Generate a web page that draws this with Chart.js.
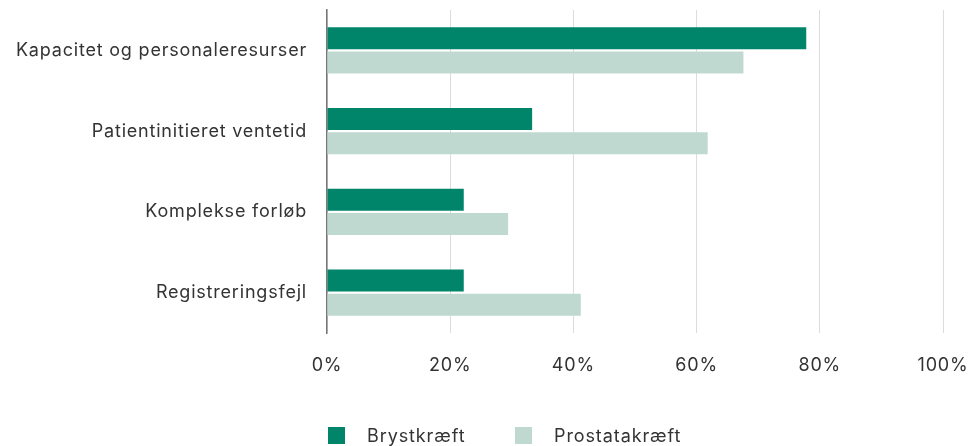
<!DOCTYPE html>
<html><head><meta charset="utf-8">
<script src="https://cdn.jsdelivr.net/npm/chart.js@4/dist/chart.umd.min.js"></script>
<style>
html,body{margin:0;padding:0;background:#fff;}
#wrap{position:relative;width:977px;height:446px;}
#legend{position:absolute;left:0;top:425px;width:977px;height:22px;font-family:Inter,sans-serif;font-size:18px;letter-spacing:0.9px;color:#333;}
.item{position:absolute;top:0;display:flex;align-items:center;}
.box{width:17px;height:17px;display:inline-block;}
</style></head>
<body><div id="wrap"><canvas id="c" width="977" height="446"></canvas><div id="legend"></div></div>
<script>
const categories = ["Kapacitet og personaleresurser","Patientinitieret ventetid","Komplekse forløb","Registreringsfejl"];
const seriesNames = ["Brystkræft","Prostatakræft"];
const brystkraeft = [77.8, 33.3, 22.2, 22.2];
const prostatakraeft = [67.6, 61.8, 29.4, 41.2];
const xTicks = [0,20,40,60,80,100];
const colors = ["#00856A","#BFD9D0"];
const font = "Inter, sans-serif";

const spacing = {id:'spacing',beforeDraw(c){c.ctx.letterSpacing='0.8px';}};

const chart = new Chart(document.getElementById('c'), {
  type:'bar',
  plugins:[spacing],
  data:{labels:categories,datasets:[
    {label:seriesNames[0],data:brystkraeft,backgroundColor:colors[0],categoryPercentage:0.6,barPercentage:0.9},
    {label:seriesNames[1],data:prostatakraeft,backgroundColor:colors[1],categoryPercentage:0.6,barPercentage:0.9}
  ]},
  options:{
    indexAxis:'y',responsive:false,animation:false,
    layout:{padding:{top:10,right:34,bottom:446-333-44,left:0}},
    plugins:{legend:{display:false},tooltip:{enabled:false}},
    scales:{
      x:{min:0,max:100,afterBuildTicks:s=>{s.ticks=xTicks.map(v=>({value:v}));},
        afterFit:s=>{s.height=44;s.paddingLeft=0;s.paddingRight=0;},
        grid:{color:'#dcdcdc',lineWidth:1,drawTicks:false},
        border:{display:false},
        ticks:{padding:22,color:'#333',font:{family:font,size:18},callback:v=>v+'%'}},
      y:{grid:{display:false,drawTicks:false},
        border:{display:true,color:'#777',width:1.5},
        afterFit:s=>{s.width=327;s.paddingTop=0;s.paddingBottom=0;},
        ticks:{padding:20,color:'#333',font:{family:font,size:18}}}
    }
  }
});
const leg=document.getElementById('legend');
const pos=[328,515];
seriesNames.forEach((n,i)=>{
  const d=document.createElement('div');d.className='item';d.style.left=pos[i]+'px';
  d.innerHTML='<span class="box" style="background:'+colors[i]+'"></span><span style="margin-left:22px">'+n+'</span>';
  leg.appendChild(d);
});
</script></body></html>
